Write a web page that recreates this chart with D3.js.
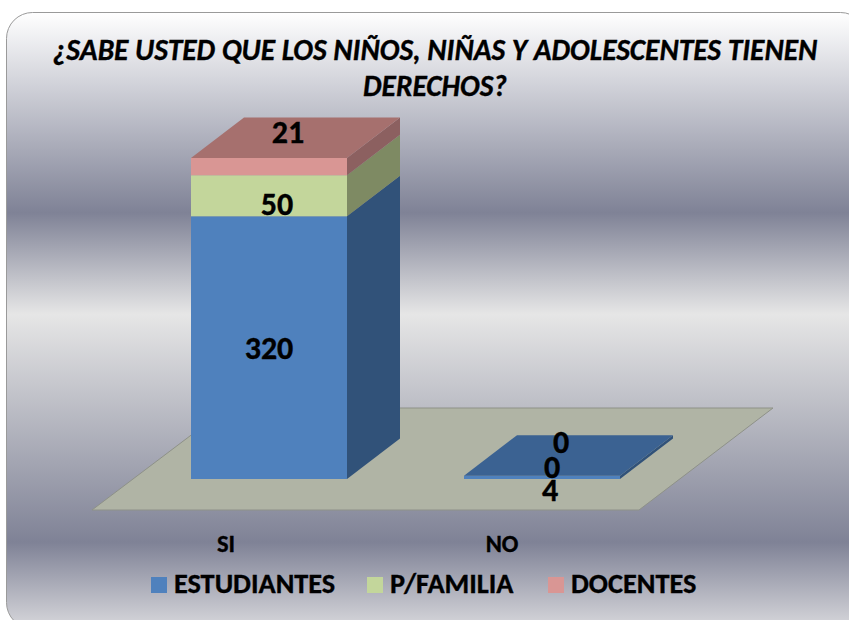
<!DOCTYPE html>
<html><head><meta charset="utf-8">
<script src="https://cdn.jsdelivr.net/npm/d3@7/dist/d3.min.js"></script>
<style>html,body{margin:0;padding:0;background:#fff}svg{display:block}text{font-family:Carlito,"Open Sans","Liberation Sans",sans-serif;font-weight:700;fill:#000;stroke:#000;stroke-width:.35px}</style>
</head><body><svg id="c" width="849" height="620"></svg>
<script>
const categories=["SI","NO"];
const seriesNames=["ESTUDIANTES","P/FAMILIA","DOCENTES"];
const estudiantes=[320,4];
const familia=[50,0];
const docentes=[21,0];
const titleLines=["¿SABE USTED QUE LOS NIÑOS, NIÑAS Y ADOLESCENTES TIENEN","DERECHOS?"];

const colors=["#4f81bd","#c3d69b","#d99694"];
const sideColors=["#315279","#7e8a63","#8c6060"];
const topColors=["#3b6292","#7e8a63","#a6706e"];
const bgStops=[[0,"#ffffff"],[0.325,"#7f8296"],[0.49,"#e6e6e6"],[0.86,"#7f8296"],[1,"#d8d8dc"]];

const svg=d3.select("#c");
const g=svg.append("defs").append("linearGradient").attr("id","bg").attr("x1",0).attr("y1",0).attr("x2",0).attr("y2",1);
bgStops.forEach(s=>g.append("stop").attr("offset",s[0]).attr("stop-color",s[1]));
svg.append("rect").attr("x",6.5).attr("y",12.5).attr("width",860).attr("height",616).attr("rx",26)
  .attr("fill","url(#bg)").attr("stroke","#9a9a9a");

const x=d3.scaleBand().domain(categories).range([191,620]).paddingInner(117/273).paddingOuter(0);
const bw=x.bandwidth(), dx=53, dy=-40.5;
const y=d3.scaleLinear().domain([0,391]).range([479,158]);

svg.append("polygon").attr("points",[[92,510],[639,510],[773,408],[227,408]].join(" "))
  .attr("fill","#b0b4a5").attr("stroke","#8e9188");

const series=[estudiantes,familia,docentes];
// label offsets from the segment centre: [dx,dy] per series, per category
const labelShift=[[[0,11],[8,19],[19,-23.6]],[[8,24],[10,2],[19,-23]]];
const catShift=[-43,-40];

categories.forEach((c,i)=>{
  let acc=0, topS=0;
  const xl=x(c), xr=xl+bw;
  series.forEach((vals,s)=>{
    const v=vals[i], y0=y(acc), y1=y(acc+v);
    acc+=v;
    if(v===0) return;
    topS=s;
    svg.append("polygon").attr("points",[[xr,y0],[xr+dx,y0+dy],[xr+dx,y1+dy],[xr,y1]].join(" ")).attr("fill",sideColors[s]);
    svg.append("rect").attr("x",xl).attr("y",y1).attr("width",bw).attr("height",y0-y1).attr("fill",colors[s]);
  });
  const yt=y(acc);
  svg.append("polygon").attr("points",[[xl,yt],[xr,yt],[xr+dx,yt+dy],[xl+dx,yt+dy]].join(" ")).attr("fill",topColors[topS]);
});

categories.forEach((c,i)=>{
  let acc=0;
  series.forEach((vals,s)=>{
    const v=vals[i], yc=y(acc+v/2);
    acc+=v;
    svg.append("text").attr("x",x(c)+bw/2+labelShift[i][s][0]).attr("y",yc+labelShift[i][s][1])
      .attr("text-anchor","middle").attr("font-size",32).text(v);
  });
  svg.append("text").attr("x",x(c)+bw/2+catShift[i]).attr("y",551.5)
    .attr("text-anchor","middle").attr("font-size",24.5).text(c);
});

titleLines.forEach((t,i)=>svg.append("text").attr("x",435).attr("y",60+i*36).attr("text-anchor","middle")
  .attr("font-size",29.4).attr("font-style","italic").text(t));

const legX=[151,367,548];
seriesNames.forEach((n,i)=>{
  svg.append("rect").attr("x",legX[i]).attr("y",577).attr("width",16).attr("height",16).attr("fill",colors[i]);
  svg.append("text").attr("x",legX[i]+23).attr("y",593).attr("font-size",28.3).text(n);
});
</script></body></html>
